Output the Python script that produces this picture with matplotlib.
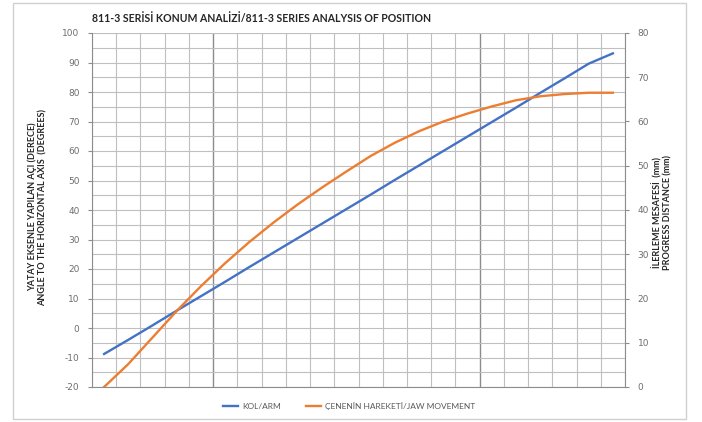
import numpy as np
import matplotlib.pyplot as plt
from matplotlib.patches import Rectangle
from matplotlib.lines import Line2D

# --- data ---
steps = list(range(22))
arm_angle = [-8.8, -4.0, 0.9, 5.9, 10.8, 15.7, 20.7, 25.6, 30.5, 35.4, 40.3,
             45.2, 50.2, 55.1, 60.0, 64.9, 69.8, 74.7, 79.7, 84.6, 89.6, 93.1]
jaw_progress = [0.0, 5.2, 11.2, 17.2, 22.8, 28.0, 32.8, 37.2, 41.3, 45.1, 48.7,
                52.2, 55.2, 57.8, 60.0, 61.8, 63.4, 64.8, 65.7, 66.2, 66.5, 66.5]

title = "811-3 SERİSİ KONUM ANALİZİ/811-3 SERIES ANALYSIS OF POSITION"
left_label = "YATAY EKSENLE YAPILAN AÇI (DERECE)\nANGLE TO THE HORIZONTAL AXIS  (DEGREES)"
right_label = "İLERLEME MESAFESİ  (mm)\nPROGRESS DISTANCE (mm)"
arm_name = "KOL/ARM"
jaw_name = "ÇENENİN HAREKETİ/JAW MOVEMENT"

blue = "#4472C4"
orange = "#ED7D31"
grid_c = "#bfbfbf"
text_c = "#595959"
narrow = ['Lato', 'DejaVu Sans']

plt.rcParams['font.family'] = ['DejaVu Sans']
plt.rcParams['axes.unicode_minus'] = False

fig = plt.figure(figsize=(7.02, 4.22), dpi=100)
fig.patches.append(Rectangle((13 / 702, 3 / 422), 673 / 702, 416 / 422,
                             transform=fig.transFigure, fill=False,
                             edgecolor="#d0d0d0", linewidth=1))

ax = fig.add_axes([92 / 702, 35 / 422, 533 / 702, 354 / 422])
ax2 = ax.twinx()

# gridlines
for k in range(23):
    xv = -0.5 + k
    dark = k in (5, 16)
    ax.axvline(xv, color="#8c8c8c" if dark else grid_c, lw=1.0 if dark else 0.8, zorder=0)
for yv in np.arange(-20, 101, 5):
    ax.axhline(yv, color=grid_c, lw=0.8, zorder=0)

ax.plot(steps, arm_angle, color=blue, lw=1.7, zorder=3)
ax2.plot(steps, jaw_progress, color=orange, lw=1.7, zorder=3)

ax.set_xlim(-0.5, 21.5)
ax.set_ylim(-20, 100)
ax2.set_ylim(0, 80)
ax.set_xticks([])
ax.set_yticks(np.arange(-20, 101, 10))
ax2.set_yticks(np.arange(0, 81, 10))

for a in (ax, ax2):
    a.tick_params(axis='y', labelsize=6.5, labelcolor="#6e6e6e", color="#8c8c8c",
                  length=3, width=0.8, pad=6)
    for s in a.spines.values():
        s.set_visible(False)
ax.spines['bottom'].set_visible(True)
ax.spines['bottom'].set_color("#8c8c8c")
ax.spines['left'].set_visible(True)
ax.spines['left'].set_color("#8c8c8c")
ax2.spines['right'].set_visible(True)
ax2.spines['right'].set_color("#8c8c8c")
ax.set_zorder(ax2.get_zorder() - 1)
ax2.patch.set_visible(False)

fig.text(92 / 702, 1 - 18 / 422, title, fontsize=7.6, fontweight='bold', family=narrow,
         color="#262626", ha='left', va='center')
fig.text(38 / 702, 1 - 207 / 422, left_label, fontsize=6.5, fontweight='bold', family=narrow,
         color="#262626", rotation=90, ha='center', va='center', multialignment='center')
fig.text(662 / 702, 1 - 213 / 422, right_label, fontsize=6.5, fontweight='bold', family=narrow,
         color="#262626", rotation=90, ha='center', va='center', multialignment='center')

handles = [Line2D([], [], color=blue, lw=1.7), Line2D([], [], color=orange, lw=1.7)]
fig.legend(handles, [arm_name, jaw_name], loc='center', bbox_to_anchor=(349 / 702, 1 - 406 / 422),
           ncol=2, frameon=False, prop={'family': narrow, 'size': 6},
           handlelength=1.8, handletextpad=0.5, columnspacing=3, labelcolor=text_c)

plt.savefig("out.png", dpi=100)
